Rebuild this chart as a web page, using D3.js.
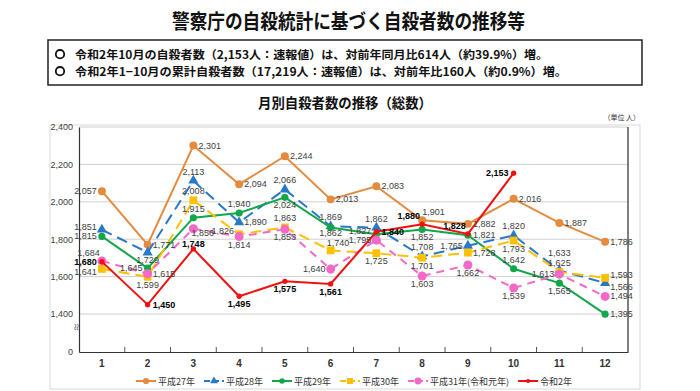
<!DOCTYPE html>
<html><head><meta charset="utf-8">
<script src="https://cdn.jsdelivr.net/npm/d3@7"></script>
<style>
body{margin:0;background:#fff;}
svg{display:block;font-family:"Noto Sans CJK JP","Liberation Sans",sans-serif;}
</style>
</head><body>
<svg id="c" width="700" height="391"></svg>
<script>
// ---------- data ----------
const months = ["1","2","3","4","5","6","7","8","9","10","11","12"];
const seriesNames = ["平成27年","平成28年","平成29年","平成30年","平成31年(令和元年)","令和2年"];
const h27 = [2057,1771,2301,2094,2244,2013,2083,1901,1882,2016,1887,1786];
const h28 = [1851,1729,2113,1890,2066,1869,1862,1708,1765,1820,1633,1566];
const h29 = [1815,1645,1915,1940,2024,1862,1827,1852,1821,1642,1565,1395];
const h30 = [1641,1599,2008,1826,1863,1740,1725,1701,1728,1793,1625,1593];
const h31 = [1684,1615,1856,1814,1853,1640,1795,1603,1662,1539,1613,1494];
const r2  = [1680,1450,1748,1495,1575,1561,1840,1880,1828,2153];
const yTicks = [0,1400,1600,1800,2000,2200,2400];
const titleText = "警察庁の自殺統計に基づく自殺者数の推移等";
const boxLines = ["令和2年10月の自殺者数（2,153人：速報値）は、対前年同月比614人（約39.9%）増。",
                  "令和2年1−10月の累計自殺者数（17,219人：速報値）は、対前年比160人（約0.9%）増。"];
const subTitle = "月別自殺者数の推移（総数）";
const unitText = "（単位 人）";

// label placement codes (layout, not data)
const pos27 = ["l","r","r","r","r","r","r","tr","r","r","r","r"];
const pos28 = ["lu","b","t","r","t","t","t","t","l","t","tt","rd"];
const pos29 = ["l","l","t","t","b","bn","lu","b","r","t","b","r"];
const pos30 = ["ld","b","t","lu","t","tq","b","b","r","b","t","ru"];
const pos31 = ["tl","r","bs","b","b","l","l","b","b","b","l","r"];
const posR2 = ["l","r","tn","b","b","b","r","tl","tl","l"];
const offs = {r:[5,3,"start"], l:[-5,3,"end"], t:[0,-6,"middle"], tn:[0,-2,"middle"], b:[0,11,"middle"],
  bn:[0,8,"middle"], tl:[-2,-5,"end"], tr:[0,-5,"start"], tq:[-4,-4,"start"], bs:[-2,7,"start"],
  lu:[-5,0,"end"], ld:[-5,6,"end"], ru:[5,0,"start"], rd:[5,7,"start"], tt:[0,-14,"middle"]};

const series = [
  {name:seriesNames[0], vals:h27, pos:pos27, color:"#E38B3F", dash:null, sym:d3.symbolCircle, size:50, w:2},
  {name:seriesNames[1], vals:h28, pos:pos28, color:"#2A78C8", dash:"11,6", sym:d3.symbolTriangle, size:45, w:2},
  {name:seriesNames[2], vals:h29, pos:pos29, color:"#14A64A", dash:null, sym:d3.symbolCircle, size:40, w:2},
  {name:seriesNames[3], vals:h30, pos:pos30, color:"#FFC000", dash:"11,6", sym:d3.symbolSquare, size:60, w:2},
  {name:seriesNames[4], vals:h31, pos:pos31, color:"#F468C8", dash:"8,6", sym:d3.symbolCircle, size:64, w:2},
  {name:seriesNames[5], vals:r2,  pos:posR2, color:"#F01010", dash:null, sym:d3.symbolCircle, size:22, w:2, bold:true}
];

const svg = d3.select("#c");

// ---------- titles ----------
svg.append("text").attr("x",172).attr("y",29).attr("font-size",20).attr("font-weight","bold")
  .attr("textLength",353).attr("lengthAdjust","spacingAndGlyphs").attr("fill","#111").text(titleText);

svg.append("rect").attr("x",48).attr("y",40).attr("width",594).attr("height",45)
  .attr("fill","none").attr("stroke","#222").attr("stroke-width",1.5);
const boxEnds = [548,567];
boxLines.forEach((t,i)=>{
  const yy = 58.5 + i*17;
  svg.append("circle").attr("cx",60).attr("cy",yy-4.3).attr("r",4.2)
    .attr("fill","none").attr("stroke","#111").attr("stroke-width",1.8);
  svg.append("text").attr("x",75).attr("y",yy).attr("font-size",11.5).attr("font-weight","bold").attr("fill","#111")
    .attr("textLength",boxEnds[i]-75).attr("lengthAdjust","spacingAndGlyphs").text(t);
});

svg.append("text").attr("x",258).attr("y",108).attr("font-size",14).attr("font-weight","bold")
  .attr("textLength",174).attr("lengthAdjust","spacingAndGlyphs").attr("fill","#111").text(subTitle);

svg.append("text").attr("x",640).attr("y",120).attr("font-size",7).attr("text-anchor","end").attr("fill","#333").text(unitText);

// chart area border
svg.append("rect").attr("x",50).attr("y",125).attr("width",590).attr("height",264)
  .attr("fill","none").attr("stroke","#d9d9d9").attr("stroke-width",1);

// ---------- scales ----------
const L=79, R=628, T=127, B=352;
const x = d3.scaleBand().domain(months).range([L,R]);
const cx = m => x(m) + x.bandwidth()/2;
const y = d3.scaleLinear().domain([0,1400,2400]).range([B,314,T]);

// gridlines
svg.append("g").selectAll("line").data(yTicks.filter(d=>d>=1400)).join("line")
  .attr("x1",L).attr("x2",R).attr("y1",d=>y(d)).attr("y2",d=>y(d))
  .attr("stroke","#d0d0d0").attr("stroke-width",1);

// y axis
const yAxis = svg.append("g").attr("transform",`translate(${L},0)`)
  .call(d3.axisLeft(y).tickValues(yTicks).tickSize(0).tickPadding(6).tickFormat(d3.format(",")));
yAxis.select(".domain").attr("stroke","#333").attr("stroke-width",1.2);
yAxis.selectAll("text").attr("font-size",9).attr("fill","#404040").attr("font-family","Liberation Sans, sans-serif");

// axis break mark
svg.append("text").attr("x",76).attr("y",330).attr("font-size",9).attr("fill","#555")
  .attr("text-anchor","middle").attr("transform","rotate(90,76,327)").text("≈");

// x axis
const xAxis = svg.append("g").attr("transform",`translate(0,${B})`)
  .call(d3.axisBottom(x).tickSize(0).tickPadding(8));
xAxis.select(".domain").attr("stroke","#333").attr("stroke-width",1.2);
xAxis.selectAll("text").attr("font-size",10).attr("font-weight","bold").attr("fill","#333").attr("font-family","Liberation Sans, sans-serif");
svg.append("g").selectAll("line").data(months.slice(1)).join("line")
  .attr("x1",d=>x(d)).attr("x2",d=>x(d)).attr("y1",B-5).attr("y2",B)
  .attr("stroke","#555").attr("stroke-width",1);
svg.append("line").attr("x1",R).attr("x2",R).attr("y1",T).attr("y2",B).attr("stroke","#555").attr("stroke-width",1.5);

// ---------- lines ----------
const line = d3.line().x((d,i)=>cx(months[i])).y(d=>y(d));
const gLines = svg.append("g");
series.forEach(s=>{
  gLines.append("path").datum(s.vals).attr("d",line).attr("fill","none")
    .attr("stroke",s.color).attr("stroke-width",s.w).attr("stroke-dasharray",s.dash);
  gLines.append("g").selectAll("path").data(s.vals).join("path")
    .attr("transform",(d,i)=>`translate(${cx(months[i])},${y(d)})`)
    .attr("d",d3.symbol().type(s.sym).size(s.size)).attr("fill",s.color);
});

// ---------- labels ----------
const fmt = d3.format(",");
const gLab = svg.append("g").attr("font-family","Liberation Sans, sans-serif").attr("font-size",9);
series.forEach(s=>{
  gLab.append("g").selectAll("text").data(s.vals).join("text")
    .attr("x",(d,i)=>cx(months[i]) + offs[s.pos[i]][0])
    .attr("y",(d,i)=>y(d) + offs[s.pos[i]][1])
    .attr("text-anchor",(d,i)=>offs[s.pos[i]][2])
    .attr("fill",s.bold?"#000":"#404040").attr("font-weight",s.bold?"bold":"normal")
    .text(d=>fmt(d));
});

// ---------- legend ----------
const lg = svg.append("g").attr("transform","translate(0,381)");
let lx = 136;
series.forEach(s=>{
  const g = lg.append("g");
  g.append("line").attr("x1",lx).attr("x2",lx+20).attr("y1",0).attr("y2",0)
    .attr("stroke",s.color).attr("stroke-width",2).attr("stroke-dasharray",s.dash?"6,3":null);
  g.append("path").attr("transform",`translate(${lx+10},0)`).attr("d",d3.symbol().type(s.sym).size(s.size*0.6)).attr("fill",s.color);
  const t = g.append("text").attr("x",lx+22).attr("y",3.5).attr("font-size",9).attr("fill","#333").text(s.name);
  lx = lx + 22 + t.node().getComputedTextLength() + 9;
});
</script>
</body></html>
